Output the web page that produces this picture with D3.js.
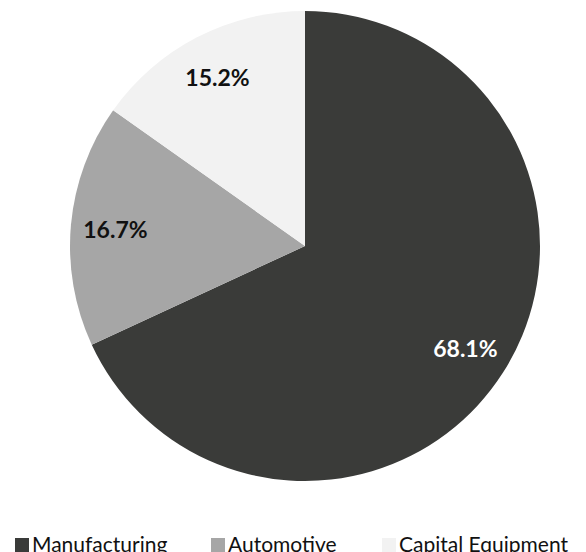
<!DOCTYPE html>
<html>
  <head>
    <meta charset="utf-8" />
    <script src="https://d3js.org/d3.v7.min.js"></script>
    <style>
      body { margin: 0; background: #fff; }
    </style>
  </head>
  <body>
    <div id="my_dataviz"></div>
    <script>
      // data
      var categories = ["Manufacturing", "Automotive", "Capital Equipment"];
      var shares = [68.1, 16.7, 15.2];
      var colors = ["#3a3b39", "#a6a6a6", "#f2f2f2"];
      var labelColors = ["#ffffff", "#111111", "#111111"];

      var width = 586, height = 552;
      var cx = 305, cy = 246, radius = 235;

      var svg = d3.select("#my_dataviz")
        .append("svg")
        .attr("width", width)
        .attr("height", height)
        .style("font-family", "Lato, sans-serif");

      var data = categories.map(function (c, i) {
        return { name: c, value: shares[i], i: i };
      });

      var pie = d3.pie().sort(null).value(function (d) { return d.value; });
      var arc = d3.arc().innerRadius(0).outerRadius(radius);
      var labelArc = d3.arc().innerRadius(radius * 0.81).outerRadius(radius * 0.81);

      var g = svg.append("g").attr("transform", "translate(" + cx + "," + cy + ")");

      g.selectAll("path")
        .data(pie(data))
        .enter()
        .append("path")
        .attr("d", arc)
        .style("fill", function (d) { return colors[d.data.i]; });

      g.selectAll("text")
        .data(pie(data))
        .enter()
        .append("text")
        .attr("transform", function (d) { return "translate(" + labelArc.centroid(d) + ")"; })
        .attr("text-anchor", "middle")
        .attr("dominant-baseline", "central")
        .style("font-size", "23px")
        .style("font-weight", "bold")
        .style("fill", function (d) { return labelColors[d.data.i]; })
        .text(function (d) { return d.data.value.toFixed(1) + "%"; });

      // legend
      var legendX = d3.scaleOrdinal().domain(categories).range([15, 211, 382]);
      var legend = svg.append("g").attr("transform", "translate(0,538)");
      var items = legend.selectAll("g")
        .data(data)
        .enter()
        .append("g")
        .attr("transform", function (d) { return "translate(" + legendX(d.name) + ",0)"; });
      items.append("rect")
        .attr("width", 14)
        .attr("height", 14)
        .style("fill", function (d) { return colors[d.i]; });
      items.append("text")
        .attr("x", 17)
        .attr("y", 14)
        .style("font-size", "21px")
        .style("fill", "#111")
        .text(function (d) { return d.name; });
    </script>
  </body>
</html>
